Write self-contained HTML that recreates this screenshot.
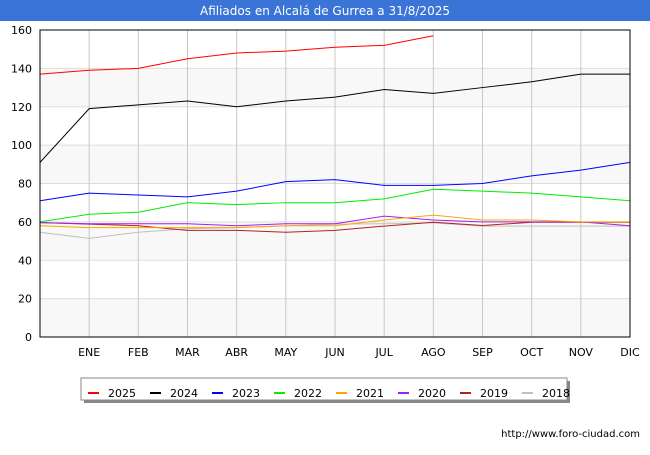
<!DOCTYPE html>
<html><head><meta charset="utf-8"><style>
body{margin:0;width:650px;height:450px;background:#fff;font-family:"Liberation Sans","DejaVu Sans",sans-serif;overflow:hidden}
</style></head><body>
<svg id="c" width="650" height="450" xmlns="http://www.w3.org/2000/svg" font-family="DejaVu Sans, Liberation Sans, sans-serif">
<rect x="0" y="0" width="650" height="21" fill="#3a74d6"/>
<text x="325" y="15" text-anchor="middle" fill="#fff" font-size="12">Afiliados en Alcalá de Gurrea a 31/8/2025</text>
<g id="grid"></g><g id="series"></g><g id="axes"></g>
<text x="640" y="437" text-anchor="end" font-size="10" fill="#000">http://www.foro-ciudad.com</text>
</svg>
<script>
const months=["","ENE","FEB","MAR","ABR","MAY","JUN","JUL","AGO","SEP","OCT","NOV","DIC"];
const yTicks=[0,20,40,60,80,100,120,140,160];
const years=["2025","2024","2023","2022","2021","2020","2019","2018"];
const colors=["#ff0000","#000000","#0000ff","#00ee00","#ffa500","#a020f0","#b22222","#c0c0c0"];
const s2025=[137,139,140,145,148,149,151,152,157];
const s2024=[91,119,121,123,120,123,125,129,127,130,133,137,137];
const s2023=[71,75,74,73,76,81,82,79,79,80,84,87,91];
const s2022=[60,64,65,70,69,70,70,72,77,76,75,73,71];
const s2021=[58,57,57,57,57,58,58,61,63.5,61,61,60,60];
const s2020=[59.6,59,59,59,58,59,59,63,61,60,60,60,58];
const s2019=[59.6,58.8,58,55.6,55.6,54.6,55.6,57.8,59.8,58.1,59.8,59.8,59.8];
const s2018=[54.6,51.4,54.6,56.4,57,57.9,58.8,59,59.5,57.8,57.8,57.8,57.8];
const allSeries=[s2025,s2024,s2023,s2022,s2021,s2020,s2019,s2018];
const NS="http://www.w3.org/2000/svg";
const L=40,R=630,T=30,B=337;
const xs=i=>L+i*(R-L)/12;
const ys=v=>B-v*(B-T)/160;
function mk(t,a,p){const e=document.createElementNS(NS,t);for(const k in a)e.setAttribute(k,a[k]);p.appendChild(e);return e;}
const g=document.getElementById('grid'),ax=document.getElementById('axes'),sg=document.getElementById('series');
for(let i=0;i<yTicks.length-1;i++){if(i%2==0){const r=mk('rect',{x:L,y:ys(yTicks[i+1]),width:R-L,height:ys(yTicks[i])-ys(yTicks[i+1]),fill:i==2||i==6||i==0?'#f8f8f8':'#f8f8f8'},g);}}
yTicks.forEach(v=>{const l=mk('line',{x1:L,x2:R,y1:ys(v),y2:ys(v),stroke:'#ddd'},g);
const t=mk('text',{x:L-8,y:ys(v)+4,'text-anchor':'end','font-size':11},ax);t.textContent=v;});
months.forEach((m,i)=>{const l=mk('line',{x1:xs(i),x2:xs(i),y1:T,y2:B,stroke:'#c8c8c8'},g);
const t=mk('text',{x:xs(i),y:B+19,'text-anchor':'middle','font-size':11},ax);t.textContent=m;});
const fr=mk('rect',{x:L,y:T,width:R-L,height:B-T,fill:'none',stroke:'#000'},ax);

for(let k=allSeries.length-1;k>=0;k--){const p=mk('polyline',{points:allSeries[k].map((v,i)=>xs(i)+','+ys(v)).join(' '),fill:'none',stroke:colors[k],'stroke-width':1},sg);
}
const lg=mk('g',{},document.getElementById('c'));

mk('rect',{x:84,y:381,width:486,height:22,fill:'#888'},lg);
mk('rect',{x:81,y:378,width:486,height:22,fill:'#fff',stroke:'#888'},lg);
years.forEach((y,k)=>{const x0=88+k*62;
const e=mk('g',{},lg);
mk('line',{x1:x0,x2:x0+11,y1:393,y2:393,stroke:colors[k],'stroke-width':2},e);
const t=mk('text',{x:x0+20,y:397,'font-size':11},e);t.textContent=y;});
</script>
</body></html>
